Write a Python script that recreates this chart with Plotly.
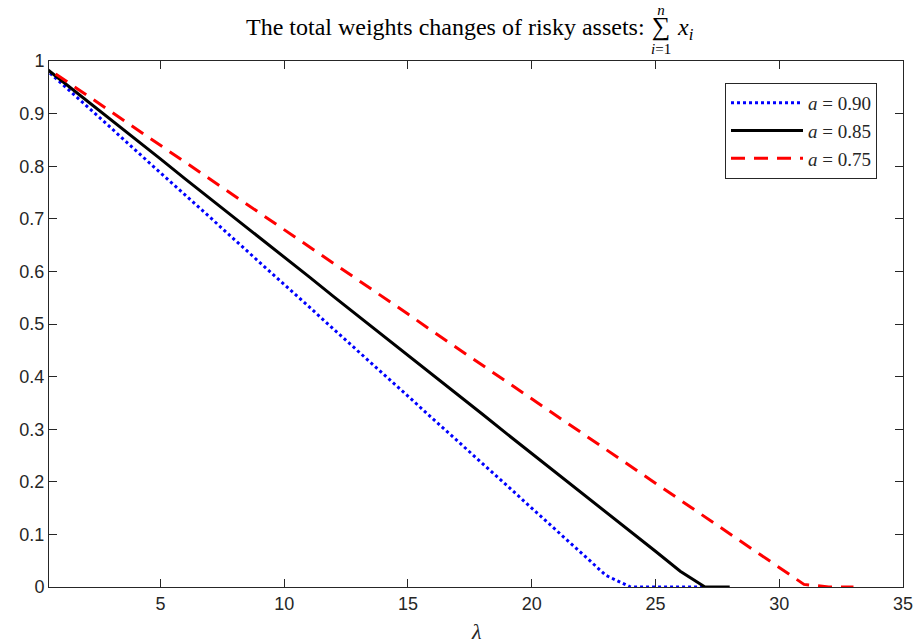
import plotly.graph_objects as go

lam_090 = list(range(0, 28))
w_090 = [1.000, 0.958, 0.915, 0.873, 0.830, 0.788, 0.745, 0.703, 0.660, 0.618,
         0.575, 0.533, 0.490, 0.448, 0.405, 0.363, 0.320, 0.278, 0.235, 0.193,
         0.150, 0.108, 0.065, 0.022, 0.0, 0.0, 0.0, 0.0]

lam_085 = list(range(0, 29))
w_085 = [1.000, 0.963, 0.925, 0.888, 0.851, 0.814, 0.776, 0.739, 0.702, 0.664,
         0.627, 0.590, 0.552, 0.515, 0.478, 0.441, 0.403, 0.366, 0.329, 0.291,
         0.254, 0.217, 0.179, 0.142, 0.105, 0.068, 0.030, 0.0, 0.0]

lam_075 = list(range(0, 34))
w_075 = [1.000, 0.968, 0.936, 0.904, 0.872, 0.840, 0.807, 0.775, 0.743, 0.711,
         0.679, 0.647, 0.615, 0.583, 0.551, 0.519, 0.486, 0.454, 0.422, 0.390,
         0.358, 0.326, 0.294, 0.262, 0.230, 0.198, 0.165, 0.133, 0.101, 0.069,
         0.037, 0.005, 0.0, 0.0]

x_ticks = [5, 10, 15, 20, 25, 30, 35]
y_ticks = [0, 0.1, 0.2, 0.3, 0.4, 0.5, 0.6, 0.7, 0.8, 0.9, 1]
y_tick_labels = ["0", "0.1", "0.2", "0.3", "0.4", "0.5", "0.6", "0.7", "0.8", "0.9", "1"]

serif = "Liberation Serif"
sans = "Liberation Sans, Arial, sans-serif"
axis_col = "#262626"

FIG_W, FIG_H = 913, 643

fig = go.Figure()
fig.add_trace(go.Scatter(x=lam_090, y=w_090, mode="lines", name="<i>a</i> = 0.90",
                         line=dict(color="#0000ff", width=3, dash="dot")))
fig.add_trace(go.Scatter(x=lam_085, y=w_085, mode="lines", name="<i>a</i> = 0.85",
                         line=dict(color="#000000", width=3)))
fig.add_trace(go.Scatter(x=lam_075, y=w_075, mode="lines", name="<i>a</i> = 0.75",
                         line=dict(color="#ff0000", width=3, dash="14px,9px")))

axis_common = dict(showline=True, linecolor=axis_col, linewidth=1, mirror="allticks",
                   ticks="inside", ticklen=8, tickcolor=axis_col, tickwidth=1,
                   showgrid=False, zeroline=False, automargin=False,
                   ticklabeloverflow="allow",
                   tickfont=dict(family=sans, size=18, color=axis_col))


def px_x(px):
    return (px - 49) / 854


def px_y(py):
    return (587 - py) / 526


fig.update_layout(
    width=FIG_W, height=FIG_H,
    margin=dict(l=49, r=FIG_W - 903, t=61, b=FIG_H - 587, autoexpand=False),
    paper_bgcolor="white", plot_bgcolor="white",
    xaxis=dict(range=[0.5, 35], tickvals=x_ticks, **axis_common),
    yaxis=dict(range=[0, 1], tickvals=y_ticks, ticktext=y_tick_labels, **axis_common),
    showlegend=True,
    legend=dict(x=px_x(877), y=px_y(83), xanchor="right", yanchor="top",
                bgcolor="white", bordercolor=axis_col, borderwidth=1,
                font=dict(family=serif, size=19, color=axis_col),
                tracegroupgap=0, itemwidth=72),
)

# x-axis label
fig.add_annotation(text="<i>λ</i>", xref="paper", yref="paper", x=px_x(476), y=px_y(631),
                   xanchor="center", yanchor="middle", showarrow=False,
                   font=dict(family=serif, size=22, color=axis_col))

# title pieces (summation with stacked limits)
title_font = dict(family=serif, size=24, color="black")
fig.add_annotation(text="The total weights changes of risky assets:", xref="paper", yref="paper",
                   x=px_x(646), y=px_y(27), xanchor="right", yanchor="middle",
                   showarrow=False, font=title_font, borderpad=0)
fig.add_annotation(text="<i>n</i><br><span style='font-size:26px'>∑</span><br><i>i</i>=1",
                   xref="paper", yref="paper", x=px_x(661), y=px_y(30),
                   xanchor="center", yanchor="middle", showarrow=False,
                   font=dict(family=serif, size=15, color="black"), borderpad=0)
fig.add_annotation(text="<i>x<sub>i</sub></i>", xref="paper", yref="paper", x=px_x(676), y=px_y(29),
                   xanchor="left", yanchor="middle", showarrow=False,
                   font=dict(family=serif, size=24, color="black"), borderpad=0)

fig.write_html("out.html", config={"displayModeBar": False},
               post_script="document.body.style.margin='0';document.body.style.overflow='hidden';")
